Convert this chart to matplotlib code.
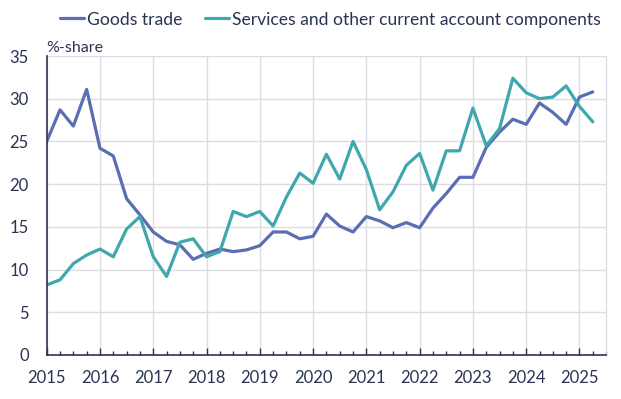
import matplotlib

matplotlib.use("Agg")
import matplotlib.pyplot as plt
from matplotlib.ticker import MultipleLocator
import numpy as np

# quarterly shares, 2015Q1 .. 2025Q2
goods_trade = [
    25.0, 28.7, 26.8, 31.1, 24.2, 23.3, 18.3, 16.4,
    14.4, 13.3, 12.9, 11.2, 11.9, 12.4, 12.1, 12.3,
    12.8, 14.4, 14.4, 13.6, 13.9, 16.5, 15.1, 14.4,
    16.2, 15.7, 14.9, 15.5, 14.9, 17.2, 18.9, 20.8,
    20.8, 24.3, 26.1, 27.6, 27.0, 29.5, 28.4, 27.0,
    30.2, 30.8,
]
services_other = [
    8.2, 8.8, 10.7, 11.7, 12.4, 11.5, 14.75, 16.2,
    11.5, 9.2, 13.2, 13.6, 11.5, 12.1, 16.8, 16.2,
    16.8, 15.1, 18.5, 21.3, 20.1, 23.5, 20.6, 25.0,
    21.7, 17.0, 19.1, 22.2, 23.6, 19.3, 23.9, 23.9,
    28.9, 24.5, 26.5, 32.4, 30.7, 30.0, 30.2, 31.5,
    29.1, 27.3,
]
years = list(range(2015, 2026))

navy = "#2b3352"
grid_c = "#dcdce3"
plt.rcParams["font.family"] = ["Lato", "DejaVu Sans"]

fig = plt.figure(figsize=(6.21, 3.99), dpi=100)
ax = fig.add_axes([0.0752, 0.1103, 0.9008, 0.7493])

q = np.arange(len(goods_trade))
ax.plot(q, goods_trade, color="#5b6db3", lw=2.3, label="Goods trade", solid_capstyle="round")
ax.plot(q, services_other, color="#3fa7ae", lw=2.3,
        label="Services and other current account components", solid_capstyle="round")

ax.set_xlim(0, 42)
ax.set_ylim(0, 35)
ax.set_xticks(np.arange(0, 44, 4))
ax.set_xticklabels([str(y) for y in years])
ax.xaxis.set_minor_locator(MultipleLocator(1))
ax.yaxis.set_major_locator(MultipleLocator(5))

ax.grid(True, which="major", color=grid_c, lw=1.0)
ax.set_axisbelow(True)

ax.spines["top"].set_visible(False)
ax.spines["right"].set_color(grid_c)
ax.spines["right"].set_linewidth(1.0)
ax.spines["left"].set_color(navy)
ax.spines["bottom"].set_color(navy)
ax.spines["left"].set_linewidth(1.2)
ax.spines["bottom"].set_linewidth(1.2)

ax.tick_params(axis="x", which="major", direction="in", length=5, width=1, color=navy,
               labelsize=12, labelcolor=navy, pad=11)
ax.tick_params(axis="x", which="minor", direction="in", length=3, width=1, color=navy)
ax.tick_params(axis="y", length=0, labelsize=12, labelcolor=navy, pad=13)

ax.text(0.0, 1.004, "%-share", transform=ax.transAxes, fontsize=11.5, color=navy,
        ha="left", va="bottom")

fig.legend(loc="upper left", bbox_to_anchor=(0.082, 0.993), ncol=2, frameon=False,
           fontsize=12.6, labelcolor=navy, handlelength=1.4, handletextpad=0.15,
           columnspacing=1.3, borderaxespad=0.1)

fig.savefig("out.png", dpi=100)
